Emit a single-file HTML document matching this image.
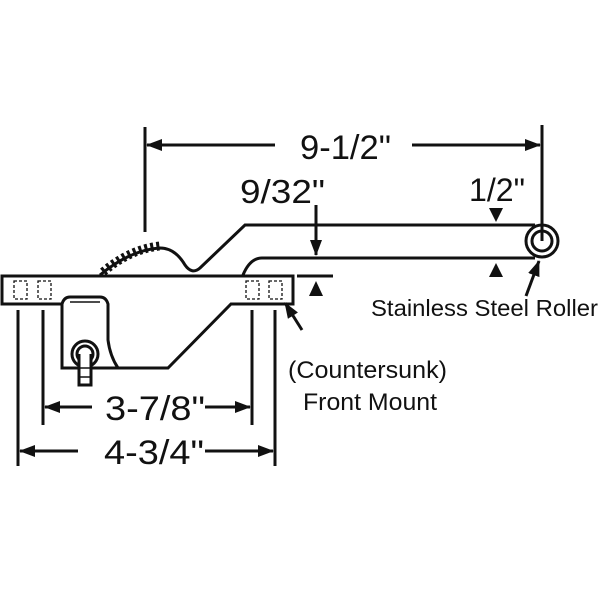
<!DOCTYPE html>
<html><head><style>body{margin:0;background:#fff}svg{display:block}text{font-family:"Liberation Sans",sans-serif;fill:#111}</style></head><body>
<svg width="600" height="600" viewBox="0 0 600 600" xmlns="http://www.w3.org/2000/svg">
<defs>
<marker id="b" viewBox="0 0 16 12" markerWidth="16" markerHeight="12" refX="15" refY="6" orient="auto" markerUnits="userSpaceOnUse"><path d="M0,0 L16,6 L0,12 Z" fill="#111"/></marker></defs>
<g stroke="#111" stroke-width="3" fill="none">
<path d="M2,276 H293 V304 H231 L168,368 H62 V304 H2 Z" fill="#fff"/>
<path d="M62,368 V304 Q64,297 70,297 H100 Q106,297 108,304 V340 Q110,356 118,368" />
<line x1="70" y1="302" x2="100" y2="302" stroke-width="1.5"/>
<circle cx="85" cy="354" r="13" fill="#fff"/><circle cx="85" cy="354" r="8"/>
<path d="M79,354 V385 H91 V354" fill="#fff"/>
<line x1="79" y1="368" x2="91" y2="368" stroke-width="1.5"/><line x1="79" y1="377" x2="91" y2="377" stroke-width="1.5"/>
<g stroke-width="1.3" stroke-dasharray="3,2"><rect x="14" y="281" width="13" height="18"/><rect x="38" y="281" width="13" height="18"/><rect x="246" y="281" width="13" height="18"/><rect x="269" y="281" width="13" height="18"/></g>
<path d="M100,275 Q130,250 160,248 Q175,248 185,265 Q192,275 200,268 L245,225 H535"/>
<path d="M243,275 Q250,258 262,258 H535"/>
<path d="M103,272 Q130,249 160,246" stroke-width="9" stroke-dasharray="3,3"/>
<circle cx="542" cy="241" r="16" fill="#fff"/><circle cx="542" cy="241" r="10"/>
<line x1="145" y1="127" x2="145" y2="232"/><line x1="542" y1="125" x2="542" y2="241"/>
<line x1="275" y1="145" x2="147" y2="145" marker-end="url(#b)"/>
<line x1="412" y1="145" x2="540" y2="145" marker-end="url(#b)"/>
<line x1="316" y1="205" x2="316" y2="255" marker-end="url(#b)"/>
<line x1="297" y1="276" x2="333" y2="276"/>
<line x1="18" y1="310" x2="18" y2="466"/><line x1="43" y1="310" x2="43" y2="425"/>
<line x1="252" y1="310" x2="252" y2="425"/><line x1="275" y1="310" x2="275" y2="466"/>
<line x1="92" y1="407" x2="45" y2="407" marker-end="url(#b)"/><line x1="205" y1="407" x2="250" y2="407" marker-end="url(#b)"/>
<line x1="78" y1="451" x2="20" y2="451" marker-end="url(#b)"/><line x1="205" y1="451" x2="273" y2="451" marker-end="url(#b)"/>
<line x1="526" y1="296" x2="539" y2="261" marker-end="url(#b)"/>
<line x1="302" y1="330" x2="285" y2="303" marker-end="url(#b)"/>
</g>
<g fill="#111"><path d="M309,296 L316,281 L323,296 Z"/><path d="M489,208 L496,222 L503,208 Z"/><path d="M489,277 L496,263 L503,277 Z"/></g>
<text x="300" y="159" font-size="34" textLength="91" lengthAdjust="spacingAndGlyphs">9-1/2"</text>
<text x="240" y="203" font-size="33" textLength="85" lengthAdjust="spacingAndGlyphs">9/32"</text>
<text x="469" y="201" font-size="32" textLength="56" lengthAdjust="spacingAndGlyphs">1/2"</text>
<text x="371" y="316" font-size="23" textLength="227" lengthAdjust="spacingAndGlyphs">Stainless Steel Roller</text>
<text x="288" y="378" font-size="24" textLength="159" lengthAdjust="spacingAndGlyphs">(Countersunk)</text>
<text x="303" y="410" font-size="24" textLength="134" lengthAdjust="spacingAndGlyphs">Front Mount</text>
<text x="105" y="420" font-size="34" textLength="100" lengthAdjust="spacingAndGlyphs">3-7/8"</text>
<text x="104" y="464" font-size="34" textLength="100" lengthAdjust="spacingAndGlyphs">4-3/4"</text>
</svg></body></html>
